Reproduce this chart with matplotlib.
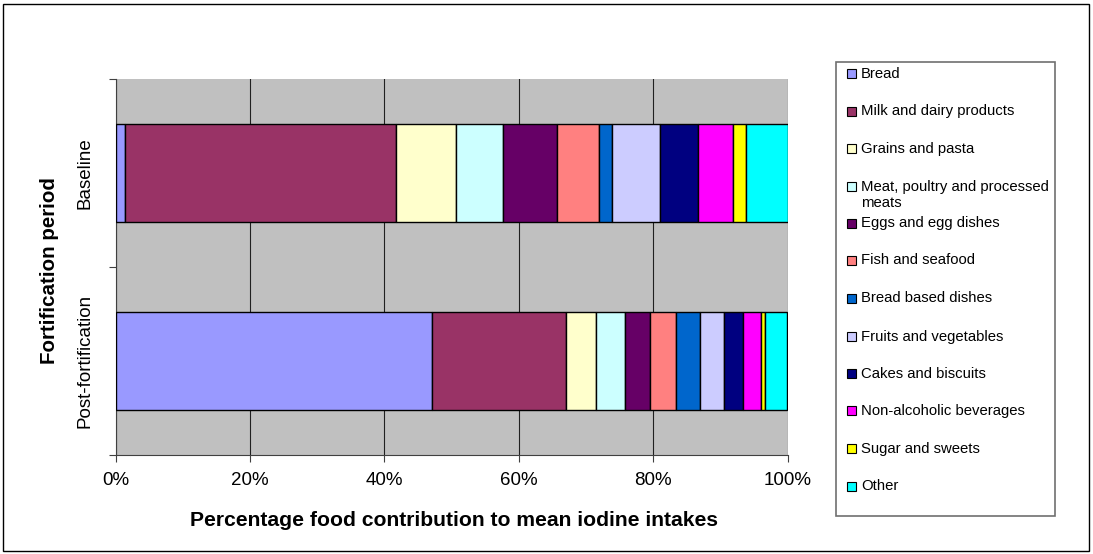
import matplotlib
matplotlib.use("Agg")
import matplotlib.pyplot as plt
from matplotlib.patches import Rectangle

plt.rcParams['font.family'] = ['Liberation Sans', 'DejaVu Sans']

periods = ["Post-fortification", "Baseline"]
food_groups = [
    "Bread", "Milk and dairy products", "Grains and pasta",
    "Meat, poultry and processed\nmeats", "Eggs and egg dishes",
    "Fish and seafood", "Bread based dishes", "Fruits and vegetables",
    "Cakes and biscuits", "Non-alcoholic beverages", "Sugar and sweets", "Other",
]
# percentage contribution per food group, in order of food_groups
baseline = [1.4, 40.3, 9.0, 6.9, 8.1, 6.3, 1.9, 7.1, 5.7, 5.2, 1.9, 6.2]
post_fortification = [47.1, 19.9, 4.5, 4.3, 3.8, 3.8, 3.6, 3.5, 2.9, 2.6, 0.7, 3.3]
colors = ["#9999FF", "#993366", "#FFFFCC", "#CCFFFF", "#660066", "#FF8080",
          "#0066CC", "#CCCCFF", "#000080", "#FF00FF", "#FFFF00", "#00FFFF"]

x_ticks = [0, 20, 40, 60, 80, 100]
x_tick_labels = ["0%", "20%", "40%", "60%", "80%", "100%"]

W, H = 1093, 554
fig = plt.figure(figsize=(W / 100, H / 100), dpi=100)

# outer chart frame
fig.patches.append(Rectangle((3 / W, 3 / H), 1 - 7 / W, 1 - 7 / H,
                             transform=fig.transFigure, fill=False,
                             edgecolor="black", linewidth=1.0))

ax = fig.add_axes([115.5 / W, 1 - 455 / H, 672 / W, 376 / H])
ax.set_facecolor("#C0C0C0")

series = [post_fortification, baseline]
left = [0.0, 0.0]
for i, col in enumerate(colors):
    vals = [s[i] for s in series]
    ax.barh([0, 1], vals, left=left, height=0.526, color=col,
            edgecolor="black", linewidth=1.0, zorder=3)
    left = [l + v for l, v in zip(left, vals)]

ax.set_xlim(0, 100)
ax.set_ylim(-0.5, 1.5)
ax.set_xticks(x_ticks)
ax.set_xticklabels(x_tick_labels, fontsize=13.5)
ax.xaxis.grid(True, color="#202020", linewidth=0.8, zorder=1)
ax.set_axisbelow(True)

ax.set_yticks([-0.5, 0.5, 1.5])
ax.set_yticklabels([])
ax.set_yticks([0, 1], minor=True)
ax.set_yticklabels(periods, minor=True, rotation=90, va="center", fontsize=13.5)
ax.tick_params(axis="y", which="minor", length=0, pad=16)
ax.tick_params(axis="y", which="major", length=5, width=0.8, color="#404040")
ax.tick_params(axis="x", length=5, width=0.8, color="#404040", pad=7.5)

for side in ("top", "right"):
    ax.spines[side].set_visible(False)
for side in ("left", "bottom"):
    ax.spines[side].set_color("#404040")
    ax.spines[side].set_linewidth(0.8)

ax.set_xlabel("Percentage food contribution to mean iodine intakes",
              fontsize=15.2, fontweight="bold")
ax.xaxis.set_label_coords(0.503, -(511 - 455) / 376)
ax.set_ylabel("Fortification period", fontsize=14.8, fontweight="bold")
ax.yaxis.set_label_coords(-(115.5 - 59) / 672, 0.49)

# legend panel
lax = fig.add_axes([0, 0, 1, 1])
lax.set_xlim(0, W)
lax.set_ylim(H, 0)
lax.axis("off")
lax.add_patch(Rectangle((835.5, 62), 219.5, 454, fill=False,
                        edgecolor="#707070", linewidth=1.2))
entry_y = [73, 111, 148, 186, 223, 260, 298, 336, 373, 410, 448, 486]
for y, label, col in zip(entry_y, food_groups, colors):
    lax.add_patch(Rectangle((847, y - 4.5), 9, 9, facecolor=col,
                            edgecolor="black", linewidth=0.8))
    lax.text(861, y - 6.5, label, fontsize=10.7, va="top", ha="left",
             linespacing=1.2)

fig.savefig("out.png", dpi=100)
